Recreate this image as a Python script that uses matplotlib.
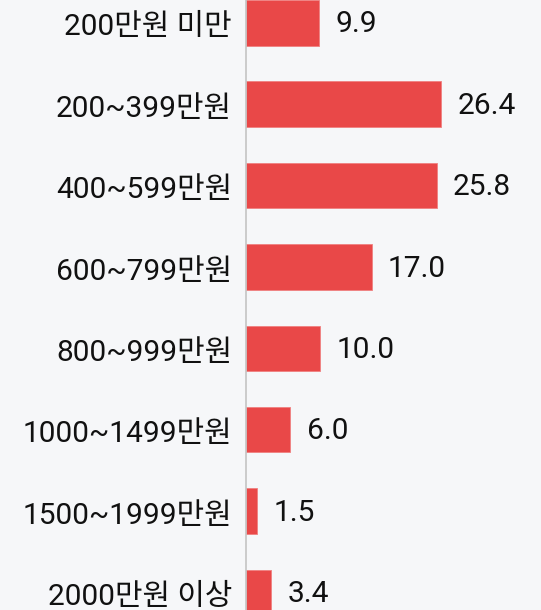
import matplotlib
matplotlib.use('Agg')
import matplotlib.pyplot as plt

plt.rcParams['font.family'] = ['Roboto', 'Noto Sans CJK KR', 'DejaVu Sans']

categories = ['200만원 미만', '200~399만원', '400~599만원', '600~799만원',
              '800~999만원', '1000~1499만원', '1500~1999만원', '2000만원 이상']
values = [9.9, 26.4, 25.8, 17.0, 10.0, 6.0, 1.5, 3.4]

bg = '#f6f7f9'
fig = plt.figure(figsize=(5.41, 6.10), dpi=100, facecolor=bg)
ax = fig.add_axes([246 / 541, 0, 1 - 246 / 541, 1], facecolor=bg)

pos = list(range(len(categories)))
ax.barh(pos, values, height=0.56, color='#e94848', edgecolor='#f08080', linewidth=0.6)

for p, v in zip(pos, values):
    ax.text(v + 2.2, p + 0.02, f'{v:.1f}', va='center', ha='left', fontsize=21.5, color='#111111')

ax.set_yticks([p + 0.02 for p in pos])
ax.set_yticklabels(categories, fontsize=21.5, color='#111111')
ax.tick_params(axis='y', length=0, pad=10)
ax.set_xticks([])
ax.set_xlim(0, 39.9)
ax.set_ylim(7.215, -0.279)

for s in ['top', 'right', 'bottom']:
    ax.spines[s].set_visible(False)
ax.spines['left'].set_color('#c4c4c4')
ax.spines['left'].set_linewidth(1.2)

fig.savefig('out.png', dpi=100, facecolor=bg)
